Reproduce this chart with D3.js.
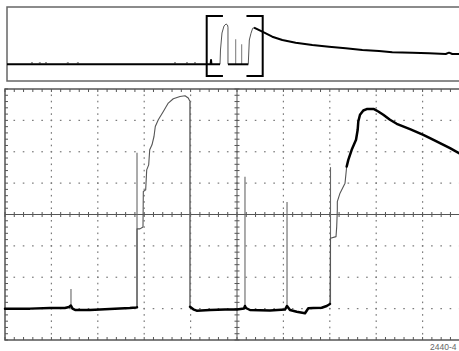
<!DOCTYPE html>
<html><head><meta charset="utf-8">
<script src="https://cdn.jsdelivr.net/npm/d3@7/dist/d3.min.js"></script>
<style>html,body{margin:0;padding:0;background:#fff;overflow:hidden}svg{display:block}</style>
</head><body><svg id="c" width="459" height="351"></svg>
<script>
// ---------- data (time in divisions, amplitude in divisions) ----------
const hDivs = [0, 10];
const vDivs = [-4, 4];
const traceLeftSlow = [[0,-3.0],[0.54,-3.0],[0.97,-2.98],[1.29,-2.98],[1.38,-2.95],[1.42,-2.90],[1.455,-3.0],[1.51,-3.04],[1.83,-3.04],[2.26,-3.01],[2.69,-2.98],[2.823,-2.964],[2.845,-2.96]];
const traceRise1 = [[2.845,-2.96],[2.845,-0.459],[2.909,-0.459],[2.974,-0.396],[2.981,0.731],[3.032,0.785],[3.054,1.423],[3.097,1.583],[3.119,2.061],[3.168,2.221],[3.211,2.486],[3.239,2.805],[3.304,3.019],[3.412,3.283],[3.519,3.551],[3.627,3.689],[3.772,3.762],[3.879,3.784],[3.95,3.711],[3.987,3.602]];
const traceFall1 = [[3.987,3.602],[3.987,-2.939]];
const traceMidSlow = [[3.987,-2.939],[4.058,-3.022],[4.131,-3.066],[4.418,-3.044],[4.741,-3.028],[5.0,-3.028],[5.151,-2.996],[5.172,-2.916],[5.194,-2.98],[5.28,-3.044],[5.711,-3.06],[6.034,-3.028],[6.078,-2.916],[6.142,-3.044],[6.287,-3.098],[6.466,-3.149],[6.537,-2.99],[6.644,-2.98],[6.825,-2.971],[6.933,-2.916],[7.004,-2.853]];
const traceRise2 = [[7.004,-2.853],[7.015,-0.756],[7.134,-0.705],[7.149,-0.386],[7.162,0.147],[7.162,0.412],[7.22,0.68],[7.328,0.999],[7.364,1.528]];
const traceDecay = [[7.364,1.528],[7.399,1.742],[7.472,2.061],[7.565,2.381],[7.601,2.7],[7.614,2.964],[7.651,3.178],[7.722,3.315],[7.795,3.36],[7.953,3.36],[8.045,3.283],[8.153,3.178],[8.297,3.019],[8.442,2.891],[8.728,2.722],[9.015,2.54],[9.159,2.435],[9.375,2.275],[9.591,2.116],[9.784,1.956],[10.0,1.806]];
const glitchTimes = [1.422, 2.845, 5.172, 6.078, 7.015];
const glitchBase  = [-2.90, -2.96, -2.92, -2.92, -2.85];
const glitchPeaks = [-2.374, 1.966, 1.2, 0.402, 1.509];

// overview record (same time units, zoom window = 0..10)
const overviewStart = -35.66;
const overviewBase = [[-35.66,-3.05],[0.70,-3.05],[0.77,-2.3],[0.85,-3.05],[2.375,-3.05]];
const overviewHump1 = [[2.375,-3.05],[2.46,-0.565],[2.73,2.39],[3.09,3.61],[3.45,3.96],[3.71,3.78],[3.80,3.4],[3.80,-3.05]];
const overviewMid = [[3.80,-3.05],[7.43,-3.05]];
const overviewRise2 = [[7.43,-3.05],[7.43,-2.88],[7.61,1.17],[7.91,2.34],[8.21,3.21],[8.45,3.31]];
const overviewDecay = [[8.45,3.31],[9.93,2.62],[11.71,1.75],[13.5,1.17],[15.89,0.70],[18.86,0.30],[21.84,0.01],[24.82,-0.27],[27.79,-0.565],[30.77,-0.74],[33.14,-0.965],[36.71,-1.03],[39.70,-1.14],[42.68,-1.26],[43.27,-1.03],[43.86,-1.26],[45.05,-1.26],[46.3,-1.31]];
const overviewSpikeTimes = [5.18, 6.25];
const overviewSpikePeaks = [1.30, 0.43];
const overviewNoise = [-31.2, -29.8, -28.7, -24.8, -23.0, -5.66, -3.52, -2.09];
const windowStart = 0, windowEnd = 10;
const figureLabel = "2440-4";

// ---------- drawing ----------
const svg = d3.select("#c");
const x = d3.scaleLinear().domain(hDivs).range([5, 469]);
const y = d3.scaleLinear().domain(vDivs).range([340, 89]);
const xo = d3.scaleLinear().domain([windowStart, windowEnd]).range([206.7, 262.7]);
const yo = d3.scaleLinear().domain([-3, 3.78]).range([64, 25]);

const line = d3.line().x(d => x(d[0])).y(d => y(d[1]));
const lineO = d3.line().x(d => xo(d[0])).y(d => yo(d[1]));

// overview frame
svg.append("rect").attr("x", xo(overviewStart)).attr("y", 7).attr("width", 480).attr("height", 74)
  .attr("fill", "none").attr("stroke", "#666").attr("stroke-width", 1.5);

// main grid dots
const g = svg.append("g").attr("fill", "#7a7a7a");
const hMinor = d3.range(0, 10.001, 0.2);
const vMinor = d3.range(-4, 4.001, 0.2);
[1,2,3,4,6,7,8,9].forEach(i => {
  vMinor.forEach(v => { if (Math.abs(v) < 3.99) g.append("rect").attr("x", x(i)-0.6).attr("y", y(v)-0.8).attr("width", 1.2).attr("height", 1.6); });
});
[-3,-2,-1,1,2,3].forEach(j => {
  hMinor.forEach(t => { if (t > 0.01 && t < 9.99) g.append("rect").attr("x", x(t)-0.8).attr("y", y(j)-0.6).attr("width", 1.6).attr("height", 1.2); });
});

// main frame
const fr = svg.append("g").attr("stroke", "#555").attr("fill", "none");
fr.append("rect").attr("x", x(0)).attr("y", y(4)).attr("width", x(10)-x(0)).attr("height", y(-4)-y(4)).attr("stroke-width", 1.5);
// crosshair
fr.append("line").attr("x1", x(5)).attr("x2", x(5)).attr("y1", y(4)).attr("y2", y(-4)).attr("stroke-width", 1);
fr.append("line").attr("x1", x(0)).attr("x2", x(10)).attr("y1", y(0)).attr("y2", y(0)).attr("stroke-width", 1);
// ticks
hMinor.forEach(t => {
  fr.append("line").attr("x1", x(t)).attr("x2", x(t)).attr("y1", y(4)).attr("y2", y(4)+3).attr("stroke-width", 1);
  fr.append("line").attr("x1", x(t)).attr("x2", x(t)).attr("y1", y(-4)).attr("y2", y(-4)-3).attr("stroke-width", 1);
  fr.append("line").attr("x1", x(t)).attr("x2", x(t)).attr("y1", y(0)-2.5).attr("y2", y(0)+2.5).attr("stroke-width", 1);
});
vMinor.forEach(v => {
  fr.append("line").attr("x1", x(0)).attr("x2", x(0)+3).attr("y1", y(v)).attr("y2", y(v)).attr("stroke-width", 1);
  fr.append("line").attr("x1", x(5)-2.5).attr("x2", x(5)+2.5).attr("y1", y(v)).attr("y2", y(v)).attr("stroke-width", 1);
});

// main trace
const thin = (data, col, w) => svg.append("path").datum(data).attr("d", line).attr("fill", "none").attr("stroke", col).attr("stroke-width", w).attr("stroke-linejoin", "round");
glitchTimes.forEach((t, i) => {
  svg.append("line").attr("x1", x(t)).attr("x2", x(t)).attr("y1", y(glitchBase[i])).attr("y2", y(glitchPeaks[i]))
    .attr("stroke", "#666").attr("stroke-width", 1.1);
});
thin(traceRise1, "#555", 1.1);
thin(traceFall1, "#666", 1.5);
thin(traceRise2, "#555", 1.1);
[traceLeftSlow, traceMidSlow, traceDecay].forEach(d => thin(d, "#000", 2.5).attr("stroke-linecap", "round"));

// overview trace
const thinO = (data, col, w) => svg.append("path").datum(data).attr("d", lineO).attr("fill", "none").attr("stroke", col).attr("stroke-width", w).attr("stroke-linejoin", "round");
overviewSpikeTimes.forEach((t, i) => {
  svg.append("line").attr("x1", xo(t)).attr("x2", xo(t)).attr("y1", yo(-3.05)).attr("y2", yo(overviewSpikePeaks[i])).attr("stroke", "#777").attr("stroke-width", 1);
});
thinO(overviewHump1, "#555", 1);
thinO(overviewRise2, "#555", 1);
thinO(overviewBase, "#000", 2);
thinO(overviewMid, "#000", 2);
thinO(overviewDecay, "#000", 2);
overviewNoise.forEach(t => {
  svg.append("rect").attr("x", xo(t)-1).attr("y", yo(-3.05)-1.8).attr("width", 2).attr("height", 1.5).attr("fill", "#333");
});

// window bracket
const bk = svg.append("g").attr("stroke", "#000").attr("stroke-width", 2).attr("fill", "none");
const bt = 5.35, bb = -5.09, arm = 2.9;
bk.append("path").attr("d", `M${xo(windowStart+arm)},${yo(bt)}H${xo(windowStart)}V${yo(bb)}H${xo(windowStart+arm)}`);
bk.append("path").attr("d", `M${xo(windowEnd-arm)},${yo(bt)}H${xo(windowEnd)}V${yo(bb)}H${xo(windowEnd-arm)}`);

svg.append("text").attr("x", 430).attr("y", 350).attr("font-family", "Liberation Sans, Arial, sans-serif")
  .attr("font-size", 8.5).attr("fill", "#666").text(figureLabel);
</script></body></html>
